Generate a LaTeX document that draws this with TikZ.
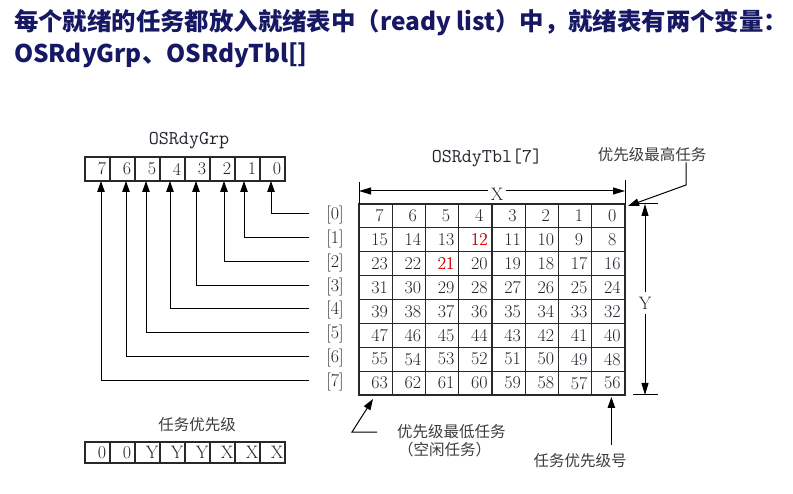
\documentclass[tikz,border=0pt]{standalone}
\usepackage{fontspec}
\newfontfamily\cjk{Noto Sans CJK SC}
\usetikzlibrary{arrows.meta,calc}
\definecolor{titleblue}{RGB}{22,24,100}
\definecolor{linegray}{RGB}{40,40,40}
\definecolor{txtgray}{RGB}{35,35,45}
\definecolor{cjkgray}{RGB}{60,60,60}
\begin{document}
\begin{tikzpicture}[x=1pt,y=-1pt,
  cell/.style={draw=linegray,line width=1.1pt,minimum width=33.25pt,minimum height=23.875pt,
    inner sep=0pt,outer sep=0pt,font=\fontsize{18}{18}\selectfont,text=txtgray,
    execute at begin node={\hspace*{8pt}}},
  bitbox/.style={draw=linegray,line width=1.1pt,minimum width=25pt,minimum height=24pt,
    inner sep=0pt,outer sep=0pt,font=\fontsize{18}{18}\selectfont,text=txtgray,
    execute at begin node={\hspace*{9pt}}},
  prbox/.style={bitbox,minimum height=21pt},
  rowlbl/.style={font=\fontsize{18}{18}\selectfont,text=txtgray,inner sep=0pt},
  monolbl/.style={font=\ttfamily\fontsize{19.5}{19.5}\selectfont,text=txtgray,inner sep=0pt},
  cjklbl/.style={font=\cjk\fontsize{15.5}{15.5}\selectfont,text=cjkgray,inner sep=0pt},
  titletext/.style={font=\cjk\bfseries\fontsize{24.4}{24.4}\selectfont,text=titleblue,inner sep=0pt,anchor=base west},
  arr/.style={draw=black,line width=1pt,-{Triangle[length=11pt,width=7.5pt]}},
  dimarr/.style={draw=black,line width=1pt,{Triangle[length=12pt,width=7pt]}-{Triangle[length=12pt,width=7pt]}},
  tick/.style={draw=black,line width=1pt}
]
\useasboundingbox (0,0) rectangle (793,494);

% title
\node[titletext] (title1) at (14,31) {每个就绪的任务都放入就绪表中（ready list）中，就绪表有两个变量：};
\node[titletext] (title2) at (14,63) {OSRdyGrp、OSRdyTbl[]};

% OSRdyGrp register
\node[monolbl] (grplbl) at (189,141) {OSRdyGrp};
\foreach \i in {0,...,7} {
  \node[bitbox] (g-\i) at ({85+25*(7-\i)+12.5},169) {\i};
}

% OSRdyTbl grid
\node[monolbl] (tbllbl) at (487,158) {OSRdyTbl[7]};
\foreach \r in {0,...,7} {
  \foreach \c in {0,...,7} {
    \pgfmathtruncatemacro{\n}{8*\r+7-\c}
    \node[cell] (t-\r-\c) at ({359+33.25*(\c+0.5)},{204+23.875*(\r+0.5)}) {\n};
  }
  \node[rowlbl] (r-\r) at (335,{204+23.875*(\r+0.5)-1}) {[\r]};
}
\node[cell,text=red] at (t-1-3) {12};
\node[cell,text=red] at (t-2-2) {21};

% connectors from row labels to OSRdyGrp bits
\foreach \i/\d in {0/-1.5,1/-3.5,2/1.5,3/-1.5,4/-2.5,5/-1.5,6/3.5,7/3.5} {
  \draw[arr] ([xshift=-17pt,yshift=1.5pt]r-\i.west) -| ([xshift=\d pt]g-\i.south);
}

% X dimension
\coordinate (xl) at ($(t-0-0.north west)+(0,-22)$);
\coordinate (xr) at ($(t-0-7.north east)+(0,-24)$);
\draw[tick] (t-0-0.north west) -- (xl);
\draw[tick] (t-0-7.north east) -- (xr);
\draw[dimarr] ($(t-0-0.north west)+(0,-13)$) -- ($(t-0-7.north east)+(0,-13)$);
\node[rowlbl,fill=white,inner xsep=3pt,inner ysep=1pt] (xlbl) at (497,194) {X};

% Y dimension
\coordinate (yt) at (645,204);
\coordinate (yb) at (645,395);
\draw[tick] ($(yt)+(-12,0)$) -- ($(yt)+(13,0)$);
\draw[tick] ($(yb)+(-12,0)$) -- ($(yb)+(13,0)$);
\draw[dimarr] (yt) -- (yb);
\node[rowlbl,fill=white,inner xsep=1pt,inner ysep=5pt] (ylbl) at (645,303) {Y};

% highest priority
\node[cjklbl] (hi) at (652,155) {优先级最高任务};
\coordinate (hibend) at (686,185);
\draw[arr] (hibend |- hi.south) -- (hibend) -- ([xshift=3pt,yshift=-2pt]t-0-7.north east);

% lowest priority
\node[cjklbl,anchor=west] (lo) at (397,432) {优先级最低任务};
\node[cjklbl,anchor=west] (lo2) at (398,450) {（空闲任务）};
\draw[arr] ([xshift=-20pt]lo.west) -- ++(-25,0) -- ([xshift=14pt,yshift=-4pt]t-7-0.south west);

% task priority number
\node[cjklbl] (pr) at (580,461) {任务优先级号};
\draw[arr] ($(t-7-7.south)+(3,50)$) -- ([xshift=3pt,yshift=-2pt]t-7-7.south);

% task priority register
\node[cjklbl] (prlbl) at (197,425) {任务优先级};
\foreach \v [count=\k from 0] in {0,0,Y,Y,Y,X,X,X} {
  \node[prbox] (p-\k) at ({85+25*\k+12.5},452.5) {\v};
}
\end{tikzpicture}
\end{document}
